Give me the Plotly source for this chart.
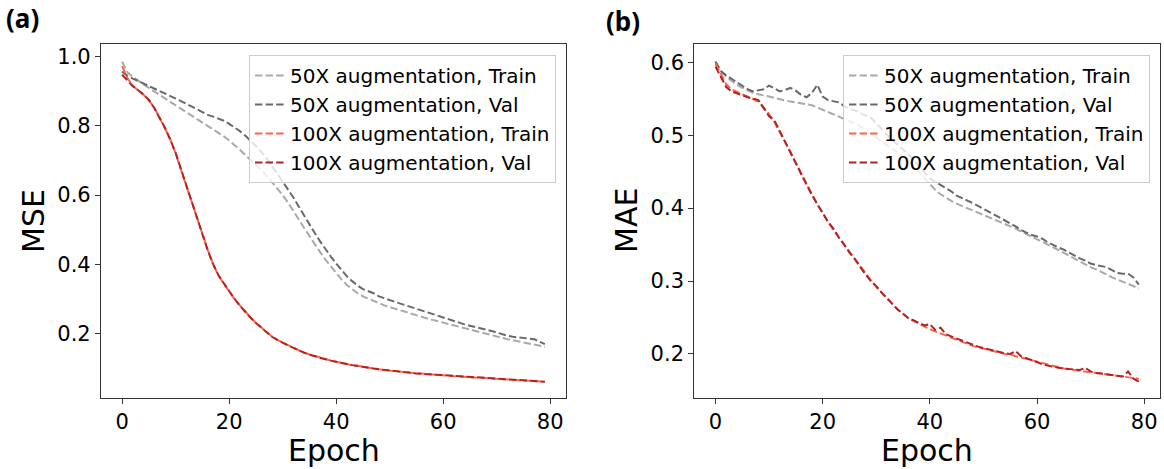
import plotly.graph_objects as go

epochs = list(range(80))

# Panel (a): MSE
mse_50x_train = [0.986, 0.955, 0.942, 0.930, 0.920, 0.910, 0.900, 0.890, 0.880, 0.870,
                 0.860, 0.850, 0.840, 0.830, 0.820, 0.810, 0.800, 0.791, 0.781, 0.770,
                 0.758, 0.745, 0.731, 0.716, 0.702, 0.688, 0.672, 0.656, 0.638, 0.620,
                 0.600, 0.578, 0.555, 0.530, 0.505, 0.481, 0.458, 0.435, 0.413, 0.393,
                 0.374, 0.356, 0.340, 0.327, 0.316, 0.307, 0.300, 0.293, 0.287, 0.281,
                 0.276, 0.271, 0.266, 0.261, 0.257, 0.252, 0.248, 0.243, 0.239, 0.235,
                 0.230, 0.226, 0.222, 0.218, 0.214, 0.210, 0.206, 0.202, 0.198, 0.194,
                 0.190, 0.186, 0.183, 0.180, 0.177, 0.174, 0.171, 0.168, 0.165, 0.161]
mse_50x_val = [0.957, 0.945, 0.937, 0.930, 0.922, 0.915, 0.907, 0.900, 0.893, 0.886,
               0.879, 0.872, 0.864, 0.856, 0.848, 0.840, 0.832, 0.827, 0.822, 0.815,
               0.806, 0.796, 0.785, 0.772, 0.758, 0.742, 0.725, 0.707, 0.684, 0.662,
               0.640, 0.617, 0.593, 0.567, 0.540, 0.514, 0.490, 0.466, 0.443, 0.422,
               0.402, 0.382, 0.365, 0.351, 0.338, 0.328, 0.322, 0.316, 0.307, 0.301,
               0.296, 0.291, 0.286, 0.281, 0.276, 0.271, 0.266, 0.261, 0.255, 0.249,
               0.244, 0.240, 0.235, 0.230, 0.226, 0.222, 0.219, 0.215, 0.211, 0.207,
               0.202, 0.197, 0.193, 0.190, 0.188, 0.187, 0.186, 0.183, 0.176, 0.169]
mse_100x_train = [0.973, 0.938, 0.916, 0.903, 0.890, 0.874, 0.853, 0.824, 0.794, 0.761,
                  0.720, 0.676, 0.626, 0.581, 0.533, 0.488, 0.441, 0.401, 0.367, 0.344,
                  0.321, 0.299, 0.281, 0.262, 0.246, 0.230, 0.217, 0.203, 0.191, 0.181,
                  0.173, 0.165, 0.158, 0.151, 0.144, 0.139, 0.134, 0.129, 0.125, 0.121,
                  0.118, 0.114, 0.111, 0.108, 0.106, 0.103, 0.100, 0.098, 0.096, 0.094,
                  0.092, 0.091, 0.089, 0.088, 0.086, 0.085, 0.083, 0.082, 0.081, 0.080,
                  0.078, 0.077, 0.076, 0.075, 0.074, 0.073, 0.072, 0.071, 0.070, 0.069,
                  0.068, 0.067, 0.066, 0.066, 0.065, 0.064, 0.063, 0.062, 0.061, 0.060]
mse_100x_val = [0.948, 0.930, 0.915, 0.903, 0.891, 0.875, 0.852, 0.823, 0.795, 0.760,
                0.722, 0.675, 0.627, 0.580, 0.535, 0.490, 0.440, 0.400, 0.368, 0.345,
                0.322, 0.300, 0.280, 0.262, 0.245, 0.230, 0.216, 0.203, 0.190, 0.181,
                0.172, 0.165, 0.158, 0.150, 0.144, 0.138, 0.133, 0.129, 0.125, 0.121,
                0.117, 0.114, 0.111, 0.108, 0.105, 0.102, 0.100, 0.098, 0.096, 0.094,
                0.092, 0.090, 0.089, 0.087, 0.086, 0.084, 0.083, 0.082, 0.081, 0.080,
                0.078, 0.077, 0.076, 0.075, 0.074, 0.073, 0.072, 0.071, 0.070, 0.069,
                0.068, 0.067, 0.066, 0.066, 0.065, 0.064, 0.063, 0.062, 0.061, 0.060]

# Panel (b): MAE
mae_50x_train = [0.600, 0.588, 0.580, 0.574, 0.569, 0.565, 0.561, 0.558, 0.556, 0.555,
                 0.553, 0.551, 0.549, 0.547, 0.546, 0.545, 0.544, 0.543, 0.541, 0.538,
                 0.535, 0.532, 0.529, 0.526, 0.523, 0.520, 0.516, 0.512, 0.507, 0.502,
                 0.497, 0.492, 0.487, 0.482, 0.477, 0.471, 0.465, 0.457, 0.449, 0.440,
                 0.432, 0.425, 0.419, 0.414, 0.410, 0.406, 0.403, 0.400, 0.397, 0.394,
                 0.391, 0.388, 0.385, 0.381, 0.378, 0.375, 0.372, 0.368, 0.364, 0.361,
                 0.357, 0.354, 0.350, 0.346, 0.343, 0.339, 0.335, 0.331, 0.327, 0.323,
                 0.319, 0.316, 0.313, 0.309, 0.305, 0.302, 0.299, 0.296, 0.293, 0.290]
mae_50x_val = [0.601, 0.588, 0.582, 0.577, 0.572, 0.567, 0.563, 0.560, 0.561, 0.563,
               0.568, 0.564, 0.560, 0.562, 0.565, 0.561, 0.555, 0.552, 0.558, 0.569,
               0.553, 0.548, 0.546, 0.545, 0.540, 0.536, 0.534, 0.530, 0.527, 0.524,
               0.516, 0.508, 0.500, 0.493, 0.487, 0.481, 0.474, 0.466, 0.458, 0.449,
               0.441, 0.436, 0.432, 0.428, 0.423, 0.417, 0.414, 0.411, 0.407, 0.403,
               0.399, 0.395, 0.392, 0.388, 0.383, 0.379, 0.375, 0.370, 0.366, 0.363,
               0.361, 0.358, 0.353, 0.349, 0.346, 0.343, 0.339, 0.334, 0.331, 0.328,
               0.324, 0.322, 0.321, 0.319, 0.315, 0.311, 0.310, 0.310, 0.305, 0.295]
mae_100x_train = [0.598, 0.583, 0.570, 0.563, 0.559, 0.556, 0.553, 0.550, 0.546, 0.538,
                  0.529, 0.518, 0.505, 0.491, 0.477, 0.462, 0.447, 0.433, 0.419, 0.405,
                  0.393, 0.381, 0.370, 0.360, 0.350, 0.340, 0.330, 0.320, 0.310, 0.301,
                  0.292, 0.284, 0.276, 0.268, 0.261, 0.255, 0.249, 0.245, 0.241, 0.237,
                  0.234, 0.231, 0.228, 0.225, 0.222, 0.220, 0.217, 0.214, 0.211, 0.209,
                  0.207, 0.205, 0.203, 0.202, 0.200, 0.199, 0.197, 0.195, 0.193, 0.191,
                  0.189, 0.187, 0.185, 0.183, 0.182, 0.180, 0.179, 0.178, 0.177, 0.176,
                  0.175, 0.174, 0.173, 0.172, 0.171, 0.170, 0.169, 0.168, 0.167, 0.166]
mae_100x_val = [0.594, 0.580, 0.566, 0.560, 0.557, 0.555, 0.552, 0.550, 0.548, 0.537,
                0.526, 0.520, 0.505, 0.490, 0.476, 0.462, 0.447, 0.432, 0.418, 0.405,
                0.392, 0.381, 0.372, 0.360, 0.350, 0.339, 0.330, 0.319, 0.309, 0.300,
                0.293, 0.284, 0.276, 0.268, 0.261, 0.255, 0.249, 0.246, 0.242, 0.239,
                0.241, 0.233, 0.236, 0.227, 0.224, 0.221, 0.219, 0.215, 0.212, 0.210,
                0.208, 0.206, 0.205, 0.203, 0.201, 0.200, 0.204, 0.197, 0.194, 0.192,
                0.188, 0.186, 0.184, 0.182, 0.181, 0.180, 0.179, 0.179, 0.178, 0.181,
                0.176, 0.174, 0.173, 0.172, 0.172, 0.170, 0.169, 0.176, 0.166, 0.162]

series_names = ["50X augmentation, Train", "50X augmentation, Val",
                "100X augmentation, Train", "100X augmentation, Val"]
series_colors = ["#a9a9a9", "#696969", "#ff6347", "#b22222"]

W, H = 1164, 469
FONT = "DejaVu Sans"
DASH = "7.4px,3.2px"

fig = go.Figure()

panel_a = [mse_50x_train, mse_50x_val, mse_100x_train, mse_100x_val]
panel_b = [mae_50x_train, mae_50x_val, mae_100x_train, mae_100x_val]

for i, (name, color, ys) in enumerate(zip(series_names, series_colors, panel_a)):
    fig.add_trace(go.Scatter(x=epochs, y=ys, mode="lines", name=name,
                             line=dict(color=color, width=2, dash=DASH),
                             xaxis="x", yaxis="y", legend="legend",
                             legendgroup="a%d" % i))
for i, (name, color, ys) in enumerate(zip(series_names, series_colors, panel_b)):
    fig.add_trace(go.Scatter(x=epochs, y=ys, mode="lines", name=name,
                             line=dict(color=color, width=2, dash=DASH),
                             xaxis="x2", yaxis="y2", legend="legend2",
                             legendgroup="b%d" % i))

def px_x(p):
    return p / W

def px_y(p):
    return (H - p) / H

axis_common = dict(showline=True, linecolor="#333333", linewidth=1.2, mirror=True,
                   ticks="outside", ticklen=5, tickwidth=1.2, tickcolor="#333333",
                   showgrid=False, zeroline=False,
                   tickfont=dict(family=FONT, size=21, color="black"))

ydom = [px_y(397.7), px_y(44)]
legend_common = dict(yanchor="top", xanchor="right",
                     bgcolor="rgba(255,255,255,0.8)", bordercolor="#cccccc", borderwidth=1,
                     font=dict(family=FONT, size=20, color="black"),
                     traceorder="grouped", tracegroupgap=0, itemwidth=30)
fig.update_layout(
    width=W, height=H,
    margin=dict(l=0, r=0, t=0, b=0),
    paper_bgcolor="white", plot_bgcolor="white",
    font=dict(family=FONT, color="black"),
    xaxis=dict(domain=[px_x(101), px_x(566)], range=[-3.95, 82.95],
               tickvals=[0, 20, 40, 60, 80], anchor="y", **axis_common),
    yaxis=dict(domain=ydom, range=[0.0138, 1.037],
               tickvals=[0.2, 0.4, 0.6, 0.8, 1.0], ticktext=["0.2", "0.4", "0.6", "0.8", "1.0"],
               anchor="x", **axis_common),
    xaxis2=dict(domain=[px_x(694.3), px_x(1160)], range=[-3.95, 82.95],
                tickvals=[0, 20, 40, 60, 80], anchor="y2", **axis_common),
    yaxis2=dict(domain=ydom, range=[0.14, 0.625],
                tickvals=[0.2, 0.3, 0.4, 0.5, 0.6], ticktext=["0.2", "0.3", "0.4", "0.5", "0.6"],
                anchor="x2", **axis_common),
    legend=dict(x=px_x(556), y=px_y(55), **legend_common),
    legend2=dict(x=px_x(1150), y=px_y(55), **legend_common),
    showlegend=True,
)

annotations = [
    dict(text="MSE", x=px_x(33), y=px_y(221), textangle=-90),
    dict(text="MAE", x=px_x(626), y=px_y(221), textangle=-90),
    dict(text="Epoch", x=px_x(333.5), y=px_y(450)),
    dict(text="Epoch", x=px_x(927), y=px_y(450)),
]
for a in annotations:
    fig.add_annotation(xref="paper", yref="paper", x=a["x"], y=a["y"], text=a["text"],
                       showarrow=False, xanchor="center", yanchor="middle",
                       textangle=a.get("textangle", 0),
                       font=dict(family=FONT, size=30, color="black"))

for label, cx, cy in [("(a)", 22, 18), ("(b)", 623, 21)]:
    fig.add_annotation(xref="paper", yref="paper", x=px_x(cx), y=px_y(cy),
                       text="<b>%s</b>" % label, showarrow=False,
                       xanchor="center", yanchor="middle",
                       font=dict(family="Noto Sans", size=26, color="black"))

fig.write_html("out.html")
